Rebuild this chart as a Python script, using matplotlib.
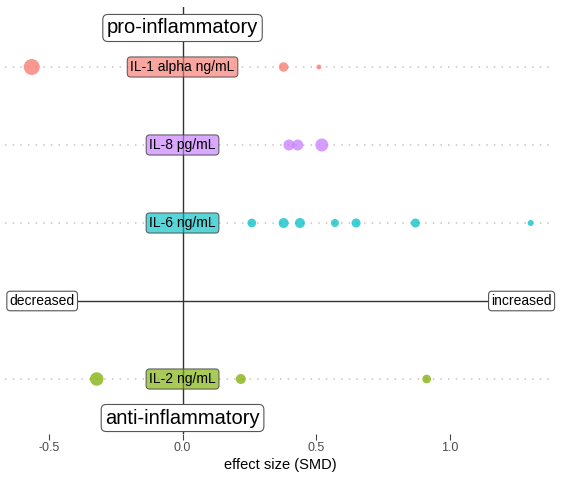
import matplotlib
matplotlib.use("Agg")
import matplotlib.pyplot as plt
from matplotlib.colors import to_rgba

plt.rcParams['font.family'] = ['Liberation Sans', 'DejaVu Sans']

# ---- data ----
markers = ["IL-2 ng/mL", "IL-6 ng/mL", "IL-8 pg/mL", "IL-1 alpha ng/mL"]
marker_pos = [1, 3, 4, 5]
colors = ["#7CAE00", "#00BFC4", "#C77CFF", "#F8766D"]

il2_smd = [-0.321, 0.218, 0.913]
il2_weight = [13.5, 10, 8.7]
il6_smd = [0.259, 0.378, 0.439, 0.570, 0.649, 0.871, 1.302]
il6_weight = [8.7, 10, 10, 8, 9, 9, 6]
il8_smd = [0.398, 0.431, 0.521]
il8_weight = [11, 11, 13]
il1_smd = [-0.564, 0.378, 0.510]
il1_weight = [16, 9.5, 5]

series_smd = [il2_smd, il6_smd, il8_smd, il1_smd]
series_weight = [il2_weight, il6_weight, il8_weight, il1_weight]

x_ticks = [-0.5, 0.0, 0.5, 1.0]
x_ticklabels = ["-0.5", "0.0", "0.5", "1.0"]
x_label = "effect size (SMD)"
top_label = "pro-inflammatory"
bottom_label = "anti-inflammatory"
left_label = "decreased"
right_label = "increased"
left_x, right_x = -0.525, 1.268

# ---- figure ----
W, H = 567, 482
fig = plt.figure(figsize=(W / 100, H / 100), dpi=100)
ax = fig.add_axes([5 / W, 1 - 434 / H, 550 / W, 427 / H])
ax.set_xlim(-0.664, 1.393)
ax.set_ylim(0.295, 5.769)

for s in ax.spines.values():
    s.set_visible(False)

# dotted row grid
for y in marker_pos:
    ax.axhline(y, color="#c4c4c4", lw=1.1, ls=(0, (1, 4)), zorder=1)

# direction line and zero line
ax.plot([left_x, right_x], [2, 2], color="#333333", lw=1.0, zorder=2)
ax.axvline(0, color="#333333", lw=1.0, zorder=2)

# points
for y, c, xs, ws in zip(marker_pos, colors, series_smd, series_weight):
    ax.scatter(xs, [y] * len(xs), s=[(w * 0.72) ** 2 for w in ws],
               color=c, alpha=0.75, edgecolors="none", zorder=3)

# marker labels
for y, c, name in zip(marker_pos, colors, markers):
    ax.text(0, y, name, ha="center", va="center", fontsize=10, color="black",
            zorder=4,
            bbox=dict(boxstyle="round,pad=0.22,rounding_size=0.25",
                      fc=to_rgba(c, 0.65), ec=to_rgba("#444444", 0.8), lw=0.8))

white_box = dict(boxstyle="round,pad=0.2,rounding_size=0.25", fc="white",
                 ec="#555555", lw=0.8)
ax.text(0, 5.5, top_label, ha="center", va="center", fontsize=14.5, zorder=5,
        bbox=white_box)
ax.text(0, 0.5, bottom_label, ha="center", va="center", fontsize=14.5, zorder=5,
        bbox=white_box)
ax.text(left_x, 2, left_label, ha="center", va="center", fontsize=10, zorder=5,
        bbox=white_box)
ax.text(right_x, 2, right_label, ha="center", va="center", fontsize=10, zorder=5,
        bbox=white_box)

ax.set_yticks([])
ax.set_xticks(x_ticks)
ax.set_xticklabels(x_ticklabels)
ax.tick_params(axis="x", length=4, width=0.8, color="#444444",
               labelcolor="#4d4d4d", labelsize=9, pad=2)
ax.set_xlabel(x_label, fontsize=10.5, labelpad=3)

fig.savefig("out.png", dpi=100)
